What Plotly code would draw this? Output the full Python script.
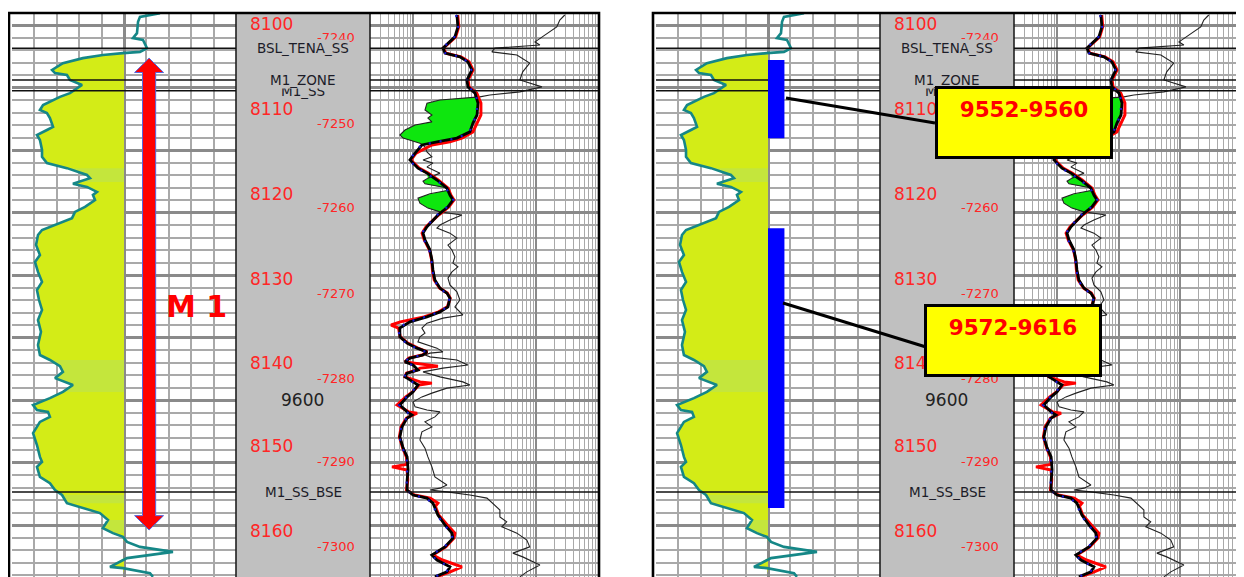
import numpy as np
import plotly.graph_objects as go

PAGE_W, PAGE_H = 1244, 577
BODY_MARGIN = 8            # default page margin around the figure
W, H = PAGE_W - BODY_MARGIN, PAGE_H - BODY_MARGIN
PANEL_SHIFT = 644          # px between the two identical log panels

# ---------------- data ----------------
# Gamma ray (GAPI) vs measured depth (ft)
gr_depth = [9538.1, 9538.7, 9539.5, 9541.3, 9542.1, 9542.4, 9543.7, 9544.3, 9544.5, 9544.8,
            9545.3, 9546.1, 9547.2, 9547.7, 9548.0, 9548.8, 9549.6, 9550.1, 9550.9, 9551.5,
            9552.8, 9553.6, 9554.1, 9554.9, 9556.3, 9556.8, 9557.6, 9558.4, 9560.0, 9561.1,
            9562.1, 9562.9, 9564.0, 9564.5, 9565.1, 9565.4, 9565.9, 9566.7, 9567.2, 9568.0,
            9569.1, 9569.9, 9570.9, 9572.0, 9572.8, 9573.6, 9575.2, 9576.8, 9577.9, 9579.5,
            9581.1, 9582.4, 9584.0, 9585.6, 9587.2, 9589.1, 9591.2, 9592.8, 9593.6, 9594.6,
            9595.5, 9596.5, 9597.6, 9598.7, 9599.7, 9600.8, 9601.6, 9601.9, 9602.7, 9603.5,
            9605.3, 9607.2, 9609.1, 9609.9, 9610.7, 9612.3, 9613.3, 9614.4, 9615.2, 9616.5,
            9617.3, 9618.1, 9619.2, 9620.5, 9621.3, 9621.9, 9622.7, 9623.5, 9624.3, 9624.8,
            9625.3, 9626.7, 9626.9, 9627.7, 9628.3]
gr_api = [99.1, 85.7, 84.4, 83.7, 81.0, 87.7, 90.4, 85.7, 74.3, 60.9,
          47.5, 34.1, 26.8, 28.8, 36.8, 38.8, 46.9, 43.5, 38.8, 32.1,
          20.8, 18.7, 23.4, 25.4, 27.5, 23.4, 16.7, 18.7, 20.1, 20.1,
          23.4, 36.8, 50.2, 52.2, 45.5, 40.8, 50.2, 56.9, 54.2, 55.6,
          48.9, 42.2, 40.2, 28.8, 20.1, 17.4, 16.1, 18.7, 15.4, 17.4,
          20.1, 16.7, 18.1, 20.1, 17.4, 19.4, 17.4, 18.7, 25.4, 32.1,
          34.1, 28.8, 40.8, 34.1, 25.4, 14.1, 16.7, 24.1, 25.4, 18.7,
          14.1, 16.7, 18.7, 20.1, 16.7, 18.7, 25.4, 28.8, 33.5, 36.8,
          47.5, 58.9, 64.3, 60.9, 67.6, 74.3, 77.0, 85.7, 107.8, 92.4,
          77.0, 65.6, 74.3, 92.4, 94.4]
# depth intervals where the sand shading is lighter
gr_band_top = [9562.9, 9593.6, 9615.2, 9619.2]
gr_band_base = [9565.1, 9598.7, 9616.5, 9621.3]

# Deep resistivity (thick black) and its blue dashed companion, ohm.m
rt_depth = [9538.4, 9540.3, 9541.9, 9543.7, 9544.5, 9545.1, 9545.9, 9547.2, 9548.8, 9549.9,
            9550.9, 9552.5, 9554.4, 9555.7, 9557.1, 9558.1, 9558.7, 9559.2, 9560.5, 9561.6,
            9562.9, 9563.7, 9564.8, 9566.1, 9567.2, 9568.0, 9569.1, 9570.4, 9572.3, 9573.3,
            9574.4, 9576.0, 9577.6, 9579.2, 9580.8, 9582.1, 9582.9, 9583.7, 9585.1, 9585.9,
            9586.7, 9587.5, 9588.5, 9589.9, 9590.9, 9591.7, 9592.3, 9592.8, 9593.3, 9593.9,
            9594.4, 9595.2, 9595.7, 9596.3, 9597.1, 9597.6, 9598.7, 9599.5, 9600.8, 9601.9,
            9602.4, 9602.9, 9604.3, 9605.9, 9607.7, 9609.1, 9611.2, 9612.8, 9614.4, 9615.2,
            9615.7, 9616.5, 9618.4, 9620.0, 9621.3, 9622.1, 9623.5, 9624.8, 9625.6, 9626.7,
            9627.5, 9628.3]
rt_deep = [5.14, 5.34, 4.77, 3.05, 3.29, 5.75, 7.75, 9.0, 7.47, 7.75,
           10.1, 11.3, 10.9, 9.35, 8.36, 5.14, 2.44, 1.39, 1.08, 0.89,
           1.20, 1.68, 2.44, 3.54, 3.96, 4.43, 3.68, 2.53, 1.68, 1.45,
           1.56, 1.88, 2.02, 2.10, 2.26, 2.73, 3.54, 3.96, 3.68, 2.73,
           1.68, 0.89, 0.61, 0.61, 0.80, 1.16, 1.68, 1.45, 0.89, 0.74,
           1.0, 1.20, 0.80, 0.74, 1.0, 1.20, 1.0, 0.80, 0.61, 0.80,
           0.96, 0.80, 0.66, 0.61, 0.69, 0.80, 0.83, 0.80, 0.80, 1.0,
           1.68, 2.10, 2.53, 3.29, 4.27, 4.43, 3.29, 2.02, 2.44, 3.96,
           3.54, 2.26]
rt_blue = [5.0, 5.4, 4.7, 3.0, 3.3, 5.9, 7.6, 8.8, 7.4, 7.9,
           10.4, 11.0, 10.6, 9.5, 8.2, 5.3, 2.5, 1.35, 1.05, 0.87,
           1.15, 1.62, 2.38, 3.45, 3.9, 4.5, 3.6, 2.45, 1.62, 1.4,
           1.5, 1.82, 1.98, 2.05, 2.2, 2.65, 3.45, 3.9, 3.6, 2.65,
           1.6, 0.84, 0.58, 0.6, 0.77, 1.12, 1.6, 1.4, 0.86, 0.72,
           0.97, 1.15, 0.77, 0.72, 0.97, 1.15, 0.97, 0.78, 0.59, 0.78,
           0.93, 0.78, 0.64, 0.6, 0.67, 0.78, 0.8, 0.78, 0.78, 0.97,
           1.6, 2.05, 2.45, 3.2, 4.2, 4.35, 3.2, 1.98, 2.4, 3.9,
           3.45, 2.2]

# Medium resistivity (red), ohm.m
red_depth = [9538.4, 9540.3, 9541.9, 9543.7, 9544.5, 9545.1, 9545.9, 9547.2, 9548.8, 9549.9,
             9550.9, 9552.5, 9554.4, 9555.7, 9557.1, 9558.1, 9558.7, 9559.2, 9560.5, 9561.6,
             9562.9, 9563.7, 9564.8, 9566.1, 9567.2, 9568.0, 9569.1, 9570.4, 9572.3, 9573.3,
             9574.4, 9576.0, 9577.6, 9579.2, 9580.8, 9582.1, 9582.9, 9583.7, 9585.1, 9585.9,
             9586.7, 9587.5, 9588.0, 9588.5, 9589.9, 9590.9, 9591.7, 9592.3, 9592.8, 9593.3,
             9593.9, 9594.6, 9594.9, 9595.2, 9595.7, 9596.3, 9597.1, 9597.3, 9597.6, 9598.7,
             9599.5, 9600.8, 9601.9, 9602.1, 9602.4, 9602.9, 9604.3, 9605.9, 9607.7, 9609.1,
             9610.3, 9610.7, 9611.2, 9612.8, 9614.4, 9615.2, 9615.7, 9616.5, 9617.0, 9618.4,
             9620.0, 9621.3, 9622.1, 9623.5, 9624.8, 9625.6, 9626.7, 9627.5, 9628.3]
rt_red = [5.3, 5.5, 4.9, 3.1, 3.4, 6.0, 8.1, 9.4, 7.8, 8.1,
          10.8, 12.6, 12.6, 10.9, 9.35, 6.2, 3.96, 2.02, 1.12, 0.92,
          1.25, 1.75, 2.55, 3.7, 4.1, 4.6, 3.8, 2.6, 1.62, 1.40,
          1.52, 1.85, 2.0, 2.06, 2.2, 2.7, 3.6, 4.0, 3.6, 2.6,
          1.5, 0.62, 0.44, 0.58, 0.62, 0.82, 1.2, 1.7, 1.4, 0.85,
          0.74, 2.53, 1.3, 1.15, 0.78, 0.74, 1.3, 2.02, 1.25, 0.98,
          0.76, 0.55, 0.85, 1.16, 0.98, 0.78, 0.64, 0.60, 0.68, 0.78,
          0.80, 0.455, 0.80, 0.82, 0.78, 1.05, 1.9, 2.53, 2.3, 2.6,
          3.6, 4.77, 4.6, 3.4, 2.1, 3.0, 6.2, 4.0, 2.4]

# Shallow resistivity (thin black), ohm.m
rs_depth = [9538.4, 9539.2, 9540.3, 9541.1, 9542.7, 9543.2, 9543.7, 9544.3, 9544.8, 9546.1,
            9547.5, 9548.8, 9549.9, 9550.7, 9551.2, 9551.5, 9552.0, 9552.5, 9553.6, 9554.4,
            9554.9, 9555.5, 9556.0, 9556.8, 9557.6, 9558.1, 9558.9, 9559.5, 9560.3, 9561.1,
            9561.6, 9562.1, 9562.7, 9563.7, 9564.5, 9565.0, 9565.4, 9566.0, 9566.4, 9567.0,
            9567.7, 9568.5, 9569.3, 9569.9, 9570.4, 9571.2, 9572.0, 9572.5, 9573.3, 9574.1,
            9575.2, 9576.0, 9577.1, 9578.1, 9578.7, 9579.5, 9580.5, 9581.6, 9582.7, 9584.0,
            9585.1, 9586.4, 9586.9, 9587.7, 9588.5, 9589.3, 9589.9, 9590.7, 9591.7, 9592.3,
            9592.5, 9592.8, 9593.1, 9593.6, 9594.4, 9594.9, 9595.5, 9596.3, 9597.1, 9597.6,
            9598.1, 9598.9, 9599.5, 9600.3, 9601.1, 9601.6, 9601.9, 9602.7, 9603.5, 9604.3,
            9605.1, 9606.4, 9607.7, 9609.1, 9610.7, 9612.3, 9613.1, 9613.6, 9614.1, 9614.4,
            9614.7, 9615.2, 9615.7, 9616.5, 9617.6, 9618.7, 9619.5, 9620.3, 9621.3, 9622.4,
            9623.5, 9624.5, 9625.1, 9626.4, 9627.5, 9628.3]
rs_shallow = [289, 240, 214, 165, 95, 114, 21.2, 19.0, 48.3, 78,
              60, 54, 123, 54, 17.6, 12.1, 2.73, 1.68, 1.56, 2.02,
              1.74, 2.02, 1.08, 0.74, 0.61, 0.69, 1.29, 1.56, 1.68, 2.02,
              1.45, 2.10, 1.68, 2.73, 1.74, 1.45, 1.56, 3.29, 3.96, 1.88,
              1.20, 1.29, 1.74, 2.73, 6.2, 3.96, 2.73, 2.44, 3.96, 5.14,
              3.68, 4.27, 4.77, 4.43, 5.34, 4.27, 3.68, 3.96, 5.14, 5.75,
              4.77, 6.43, 3.05, 1.68, 1.39, 1.56, 1.29, 1.20, 2.44, 3.05,
              1.88, 1.56, 1.88, 5.14, 7.75, 3.05, 1.45, 2.73, 6.43, 8.36,
              3.54, 2.02, 1.39, 1.0, 1.08, 1.68, 2.73, 2.26, 1.56, 2.02,
              1.39, 1.29, 1.56, 1.74, 2.02, 2.26, 2.94, 3.54, 2.73, 1.88,
              3.54, 8.36, 15.8, 19.7, 25.6, 25.6, 33, 27.5, 48.3, 70,
              78, 41.6, 60, 114, 70, 54]

GR_MIN, GR_MAX, GR_CUTOFF = 0, 150, 75
RES_MIN, RES_MAX = 0.2, 1000
MD_TOP, MD_BOT = 9538.08, 9628.32

tops_names = ["BSL_TENA_SS", "M1_SS", "M1_ZONE", "M1_SS_BSE"]
tops_md = [9543.7, 9550.5, 9548.8, 9614.7]

tvd_labels = ["8100", "8110", "8120", "8130", "8140", "8150", "8160"]
tvd_md = [9539.8, 9553.4, 9567.0, 9580.6, 9594.1, 9607.4, 9621.0]
tvdss_labels = ["-7240", "-7250", "-7260", "-7270", "-7280", "-7290", "-7300"]
tvdss_md = [9542.0, 9555.8, 9569.2, 9582.9, 9596.5, 9609.8, 9623.4]
md_labels = ["9600"]
md_values = [9600.0]

zone_name = "M 1"
zone_top, zone_base = 9545.3, 9620.8
perf_top = [9545.6, 9572.5]
perf_base = [9558.1, 9617.3]
perf_labels = ["9552-9560", "9572-9616"]

# ---------------- helpers (page pixel -> paper fraction) ----------------
def fx(px):
    return (px - BODY_MARGIN) / W


def fy(py):
    return 1 - (py - BODY_MARGIN) / H


def aname(i, letter):
    return f"{letter}axis" if i == 1 else f"{letter}axis{i}"


def aref(i, letter):
    return letter if i == 1 else f"{letter}{i}"


FONT = "DejaVu Sans"
GRID_MAJ = "#8a8a8a"
GRID_MIN = "#a9a9a9"
RED_TXT = "#ff2626"

fig = go.Figure()
layout = dict(width=W, height=H, margin=dict(l=0, r=0, t=0, b=0),
              paper_bgcolor="white", plot_bgcolor="white",
              showlegend=False, hovermode=False)
shapes, annotations = [], []

ycommon = dict(domain=[0, fy(13)], range=[MD_BOT, MD_TOP], showticklabels=False,
               ticks="", zeroline=False, showline=False, fixedrange=True,
               showgrid=True, dtick=10, tick0=9600, gridcolor=GRID_MAJ, gridwidth=2.5,
               minor=dict(dtick=2, tick0=9600, showgrid=True, gridcolor=GRID_MIN, gridwidth=1.6))

res_major = [1, 10, 100, 1000]
res_minor = [m * d for d in (0.1, 1, 10, 100) for m in range(2, 10) if m * d >= RES_MIN]

gr_arr = np.array(gr_api)
gr_d = np.array(gr_depth)
# common depth grid for the resistivity crossover fill
grid = np.union1d(rt_depth, rs_depth)
lt = np.interp(grid, rt_depth, np.log10(rt_deep))
ls = np.interp(grid, rs_depth, np.log10(rs_shallow))
thick_i = 10 ** lt
left_i = 10 ** np.minimum(lt, ls)

for p in range(2):
    o = p * PANEL_SHIFT
    i1, i3 = 2 * p + 1, 2 * p + 2
    x1, y1, x3, y3 = aref(i1, "x"), aref(i1, "y"), aref(i3, "x"), aref(i3, "y")

    layout[aname(i1, "x")] = dict(domain=[fx(12 + o), fx(236 + o)], range=[GR_MIN, GR_MAX],
                                  anchor=y1, showticklabels=False, ticks="", zeroline=False,
                                  showline=False, fixedrange=True, showgrid=True,
                                  dtick=75, tick0=0, gridcolor=GRID_MAJ, gridwidth=2.5,
                                  minor=dict(dtick=15, tick0=0, showgrid=True,
                                             gridcolor=GRID_MIN, gridwidth=1.6))
    layout[aname(i1, "y")] = dict(anchor=x1, **ycommon)
    layout[aname(i3, "x")] = dict(domain=[fx(370 + o), fx(598 + o)], type="log",
                                  range=[np.log10(RES_MIN), np.log10(RES_MAX)],
                                  anchor=y3, showticklabels=False, ticks="", zeroline=False,
                                  showline=False, fixedrange=True, showgrid=True,
                                  tickmode="array", tickvals=res_major,
                                  gridcolor=GRID_MAJ, gridwidth=2.2,
                                  minor=dict(tickmode="array", tickvals=res_minor, showgrid=True,
                                             gridcolor=GRID_MIN, gridwidth=1.4))
    layout[aname(i3, "y")] = dict(anchor=x3, **ycommon)

    # ---- track 1: gamma ray with sand fill ----
    fig.add_trace(go.Scatter(x=[GR_CUTOFF] * len(gr_depth), y=gr_depth, mode="lines",
                             line=dict(width=0), xaxis=x1, yaxis=y1, hoverinfo="skip"))
    fig.add_trace(go.Scatter(x=np.minimum(gr_arr, GR_CUTOFF), y=gr_depth, mode="lines",
                             line=dict(width=0), fill="tonextx", fillcolor="#d3ec17",
                             xaxis=x1, yaxis=y1, hoverinfo="skip"))
    for bt, bb in zip(gr_band_top, gr_band_base):
        m = (gr_d >= bt) & (gr_d <= bb)
        fig.add_trace(go.Scatter(x=[GR_CUTOFF] * int(m.sum()), y=gr_d[m], mode="lines",
                                 line=dict(width=0), xaxis=x1, yaxis=y1, hoverinfo="skip"))
        fig.add_trace(go.Scatter(x=np.minimum(gr_arr[m], GR_CUTOFF), y=gr_d[m], mode="lines",
                                 line=dict(width=0), fill="tonextx", fillcolor="#c4e63c",
                                 xaxis=x1, yaxis=y1, hoverinfo="skip"))
    fig.add_trace(go.Scatter(x=gr_api, y=gr_depth, mode="lines",
                             line=dict(color="#158787", width=2.6),
                             xaxis=x1, yaxis=y1, hoverinfo="skip"))

    # ---- track 3: resistivities ----
    fig.add_trace(go.Scatter(x=thick_i, y=grid, mode="lines", line=dict(width=0),
                             xaxis=x3, yaxis=y3, hoverinfo="skip"))
    fig.add_trace(go.Scatter(x=left_i, y=grid, mode="lines", line=dict(width=0),
                             fill="tonextx", fillcolor="#0ee60e",
                             xaxis=x3, yaxis=y3, hoverinfo="skip"))
    fig.add_trace(go.Scatter(x=rs_shallow, y=rs_depth, mode="lines",
                             line=dict(color="#222222", width=1.1),
                             xaxis=x3, yaxis=y3, hoverinfo="skip"))
    fig.add_trace(go.Scatter(x=rt_red, y=red_depth, mode="lines",
                             line=dict(color="#ff0000", width=3),
                             xaxis=x3, yaxis=y3, hoverinfo="skip"))
    fig.add_trace(go.Scatter(x=rt_deep, y=rt_depth, mode="lines",
                             line=dict(color="#000000", width=2.8),
                             xaxis=x3, yaxis=y3, hoverinfo="skip"))
    fig.add_trace(go.Scatter(x=rt_blue, y=rt_depth, mode="lines",
                             line=dict(color="#1818d0", width=2.2, dash="2px,9px"),
                             xaxis=x3, yaxis=y3, hoverinfo="skip"))

    # ---- depth track background & frame ----
    shapes.append(dict(type="rect", xref="paper", yref="paper", x0=fx(236 + o), x1=fx(370 + o),
                       y0=-0.02, y1=fy(13), fillcolor="#c0c0c0", line=dict(width=0), layer="below"))
    for sx in (236, 370):
        shapes.append(dict(type="line", xref="paper", yref="paper", x0=fx(sx + o), x1=fx(sx + o),
                           y0=-0.02, y1=fy(13), line=dict(color="#202020", width=1.6), layer="above"))
    shapes.append(dict(type="rect", xref="paper", yref="paper", x0=fx(8 + o) + 0.0008, x1=fx(599 + o),
                       y0=-0.02, y1=fy(13), line=dict(color="black", width=2.6), layer="above"))

    # formation top lines in tracks 1 and 3
    for md in tops_md:
        for xi in (x1, x3):
            yi = y1 if xi == x1 else y3
            shapes.append(dict(type="line", xref=f"{xi} domain", yref=yi, x0=0, x1=1, y0=md, y1=md,
                               line=dict(color="#101010", width=1.5), layer="above"))

    # depth labels
    for t, md in zip(tvd_labels, tvd_md):
        annotations.append(dict(text=t, x=fx(248 + o), y=md, xref="paper", yref="y",
                                xanchor="left", yanchor="middle", showarrow=False,
                                font=dict(family=FONT, size=17, color=RED_TXT)))
    for t, md in zip(tvdss_labels, tvdss_md):
        annotations.append(dict(text=t, x=fx(357 + o), y=md, xref="paper", yref="y",
                                xanchor="right", yanchor="middle", showarrow=False,
                                font=dict(family=FONT, size=13, color=RED_TXT)))
    for t, md in zip(md_labels, md_values):
        annotations.append(dict(text=t, x=fx(302.5 + o), y=md, xref="paper", yref="y",
                                xanchor="center", yanchor="middle", showarrow=False,
                                font=dict(family=FONT, size=17, color="#222222")))
    for t, md in zip(tops_names, tops_md):
        annotations.append(dict(text=t, x=fx(303 + o), y=md, xref="paper", yref="y",
                                xanchor="center", yanchor="middle", showarrow=False,
                                bgcolor="#c0c0c0", borderpad=0,
                                font=dict(family=FONT, size=13.5, color="#1c1c28")))

# ---- left panel: zone arrow ----
cx, hs, hh, hl = 91.8, 4.4, 9.7, 2.3
pts = [(cx, zone_top), (cx + hh, zone_top + hl), (cx + hs, zone_top + hl),
       (cx + hs, zone_base - hl), (cx + hh, zone_base - hl), (cx, zone_base),
       (cx - hh, zone_base - hl), (cx - hs, zone_base - hl), (cx - hs, zone_top + hl),
       (cx - hh, zone_top + hl)]
path = "M " + " L ".join(f"{a},{b}" for a, b in pts) + " Z"
shapes.append(dict(type="path", path=path, xref="x", yref="y", fillcolor="#ff0000",
                   line=dict(color="#5566dd", width=1), layer="above"))
annotations.append(dict(text="<b>" + zone_name + "</b>", x=fx(196), y=9585.1, xref="paper", yref="y",
                        xanchor="center", yanchor="middle", showarrow=False,
                        font=dict(family=FONT, size=30, color="#ff0000")))

# ---- right panel: perforations and callouts ----
for top, base in zip(perf_top, perf_base):
    shapes.append(dict(type="rect", xref="x3", yref="y3", x0=GR_CUTOFF, x1=86, y0=top, y1=base,
                       fillcolor="#0000ff", line=dict(width=0), layer="above"))

leaders = [((786, 98), (935, 123)), ((783, 303), (926, 347))]
boxes = [(1023.5, 123), (1013, 340)]
for (a, b), (bx, by), lab in zip(leaders, boxes, perf_labels):
    shapes.append(dict(type="line", xref="paper", yref="paper", x0=fx(a[0]), y0=fy(a[1]),
                       x1=fx(b[0]), y1=fy(b[1]), line=dict(color="black", width=3), layer="above"))
    annotations.append(dict(text="<b>" + lab + "</b>", x=fx(bx), y=fy(by), xref="paper", yref="paper",
                            xanchor="center", yanchor="middle", showarrow=False,
                            width=156, height=51, valign="top", align="center",
                            bgcolor="#ffff00", bordercolor="black", borderwidth=3, borderpad=8,
                            font=dict(family=FONT, size=21.5, color="#ff0000")))

layout["shapes"] = shapes
layout["annotations"] = annotations
fig.update_layout(**layout)
fig.write_html("out.html", config={"displayModeBar": False})
